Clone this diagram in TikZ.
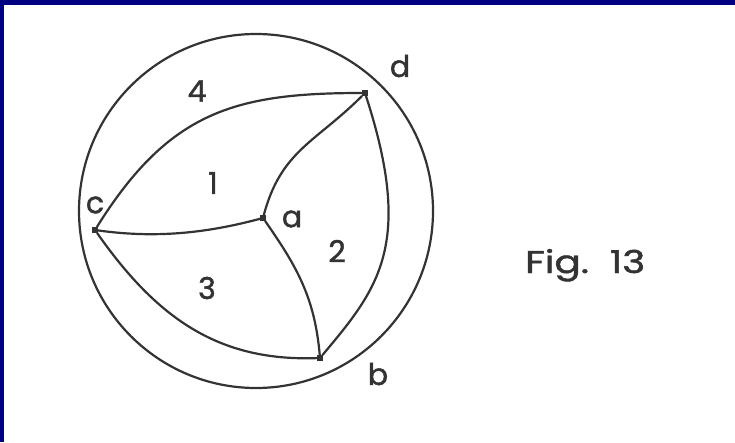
\documentclass[tikz,border=0pt]{standalone}
\usepackage{fontspec}
\setmainfont{Poppins}[BoldFont=*,BoldFeatures={FakeBold=1.4}]
\definecolor{FrameClr}{rgb}{0,0,0.5}
\definecolor{InkClr}{gray}{0.2}

\begin{document}
\begin{tikzpicture}[x=1pt,y=1pt,
  edge/.style={line width=2.2pt,color=InkClr},
  vertex/.style={rectangle,fill=InkClr,inner sep=0pt,minimum size=5.5pt},
  lbl/.style={text=InkClr,font=\fontsize{30}{34}\selectfont\bfseries,inner sep=0pt}]
\useasboundingbox (0,0) rectangle (735,442);
\fill[white] (0,0) rectangle (735,442);
\fill[FrameClr] (0,437) rectangle (735,442);
\fill[FrameClr] (0,0) rectangle (4,442);

% the sphere
\coordinate (O) at (256,231);
\draw[edge] (O) circle (177);

% vertices
\node[vertex] (c) at (95,212) {};
\node[vertex] (a) at (263,224) {};
\node[vertex] (d) at (365,349) {};
\node[vertex] (b) at (320,84) {};

% edges
\draw[edge] (c) .. controls +(58:140) and +(180:130) .. (d);
\draw[edge] (c) .. controls +(-8:60) and +(195:60) .. (a);
\draw[edge] (a) .. controls +(75:70) and +(225:70) .. (d);
\draw[edge] (a) .. controls +(-55:60) and +(95:60) .. (b);
\draw[edge] (c) .. controls +(-55:110) and +(182:100) .. (b);
\draw[edge] (d) .. controls +(-72:160) and +(50:90) .. (b);

% labels
\node[lbl] (lblD) at (400,376) {d};
\node[lbl] (lblC) at (95,237) {c};
\node[lbl] (lblA) at (292,223) {a};
\node[lbl] (lblB) at (378,68) {b};
\node[lbl] (reg4) at (197,351) {4};
\node[lbl] (reg1) at (213,259) {1};
\node[lbl] (reg2) at (337,191) {2};
\node[lbl] (reg3) at (207,154) {3};
\node[lbl,anchor=base west] (fig) at (525,169) {\scalebox{1.3}[1.05]{Fig.~~13}};

\end{tikzpicture}
\end{document}
